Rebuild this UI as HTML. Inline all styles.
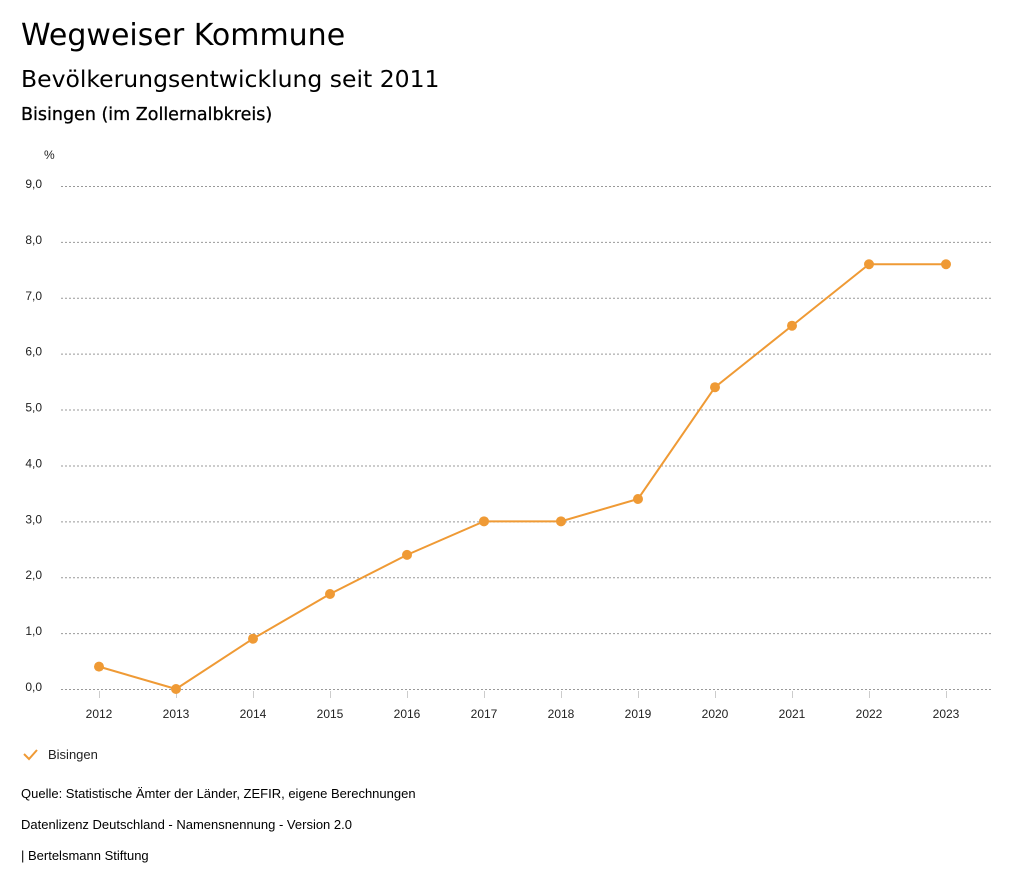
<!DOCTYPE html>
<html><head><meta charset="utf-8"><style>
body{margin:0;background:#fff;font-family:"Liberation Sans",sans-serif;color:#000}
.wrap{position:relative;width:1024px;height:888px;overflow:hidden}
.t{position:absolute;left:21px;white-space:nowrap}
.d{font-family:"DejaVu Sans",sans-serif}
</style></head><body><div class="wrap">
<div class="t d" style="top:18px;font-size:30px">Wegweiser Kommune</div>
<div class="t d" style="top:65px;font-size:23.5px">Bevölkerungsentwicklung seit 2011</div>
<div class="t d" style="top:105px;font-size:17.5px;-webkit-text-stroke:0.3px #000">Bisingen (im Zollernalbkreis)</div>
<svg id="c" width="1024" height="888" style="position:absolute;left:0;top:0"></svg>
<div class="t" style="top:786px;font-size:13px">Quelle: Statistische Ämter der Länder, ZEFIR, eigene Berechnungen</div>
<div class="t" style="top:817px;font-size:13px">Datenlizenz Deutschland - Namensnennung - Version 2.0</div>
<div class="t" style="top:848px;font-size:13px">| Bertelsmann Stiftung</div>
</div>
<script>
const years=["2012","2013","2014","2015","2016","2017","2018","2019","2020","2021","2022","2023"];
const values=[0.4,0.0,0.9,1.7,2.4,3.0,3.0,3.4,5.4,6.5,7.6,7.6];
const yTicks=[0,1,2,3,4,5,6,7,8,9];
const NS="http://www.w3.org/2000/svg";
const svg=document.getElementById('c');
const x=i=>99+i*77;
const y=v=>689-v*(503/9);
function mk(t,a,txt){const e=document.createElementNS(NS,t);for(const k in a)e.setAttribute(k,a[k]);if(txt!=null)e.textContent=txt;svg.appendChild(e);return e;}
const col="#ef9a35";
let u=mk('text',{x:44,y:159,'font-size':12,fill:'#222'},'%');


yTicks.forEach(v=>{
 const g=mk('line',{x1:61,x2:991,y1:y(v)+0.5,y2:y(v)+0.5,stroke:'#999','stroke-dasharray':'2,2'});
 
 
 const t=mk('text',{x:42,y:y(v)+2,'text-anchor':'end','font-size':12,fill:'#222'},v.toFixed(1).replace('.',','));
 
 
});
years.forEach((yr,i)=>{
 const l=mk('line',{x1:x(i)+0.5,x2:x(i)+0.5,y1:691,y2:698,stroke:'#ccc'});
 
 
 const t=mk('text',{x:x(i),y:718,'text-anchor':'middle','font-size':12,fill:'#222'},yr);
 
 
});
const p=mk('polyline',{points:values.map((v,i)=>x(i)+','+y(v)).join(' '),fill:'none',stroke:col,'stroke-width':2});


values.forEach((v,i)=>{
 const c=mk('circle',{cx:x(i),cy:y(v),r:5,fill:col});
 
 
});
const lg=mk('path',{d:'M24 754 L29 759 L37 750',fill:'none',stroke:col,'stroke-width':2});


const lt=mk('text',{x:48,y:759,'font-size':13,fill:'#222'},'Bisingen');


</script>
</body></html>
